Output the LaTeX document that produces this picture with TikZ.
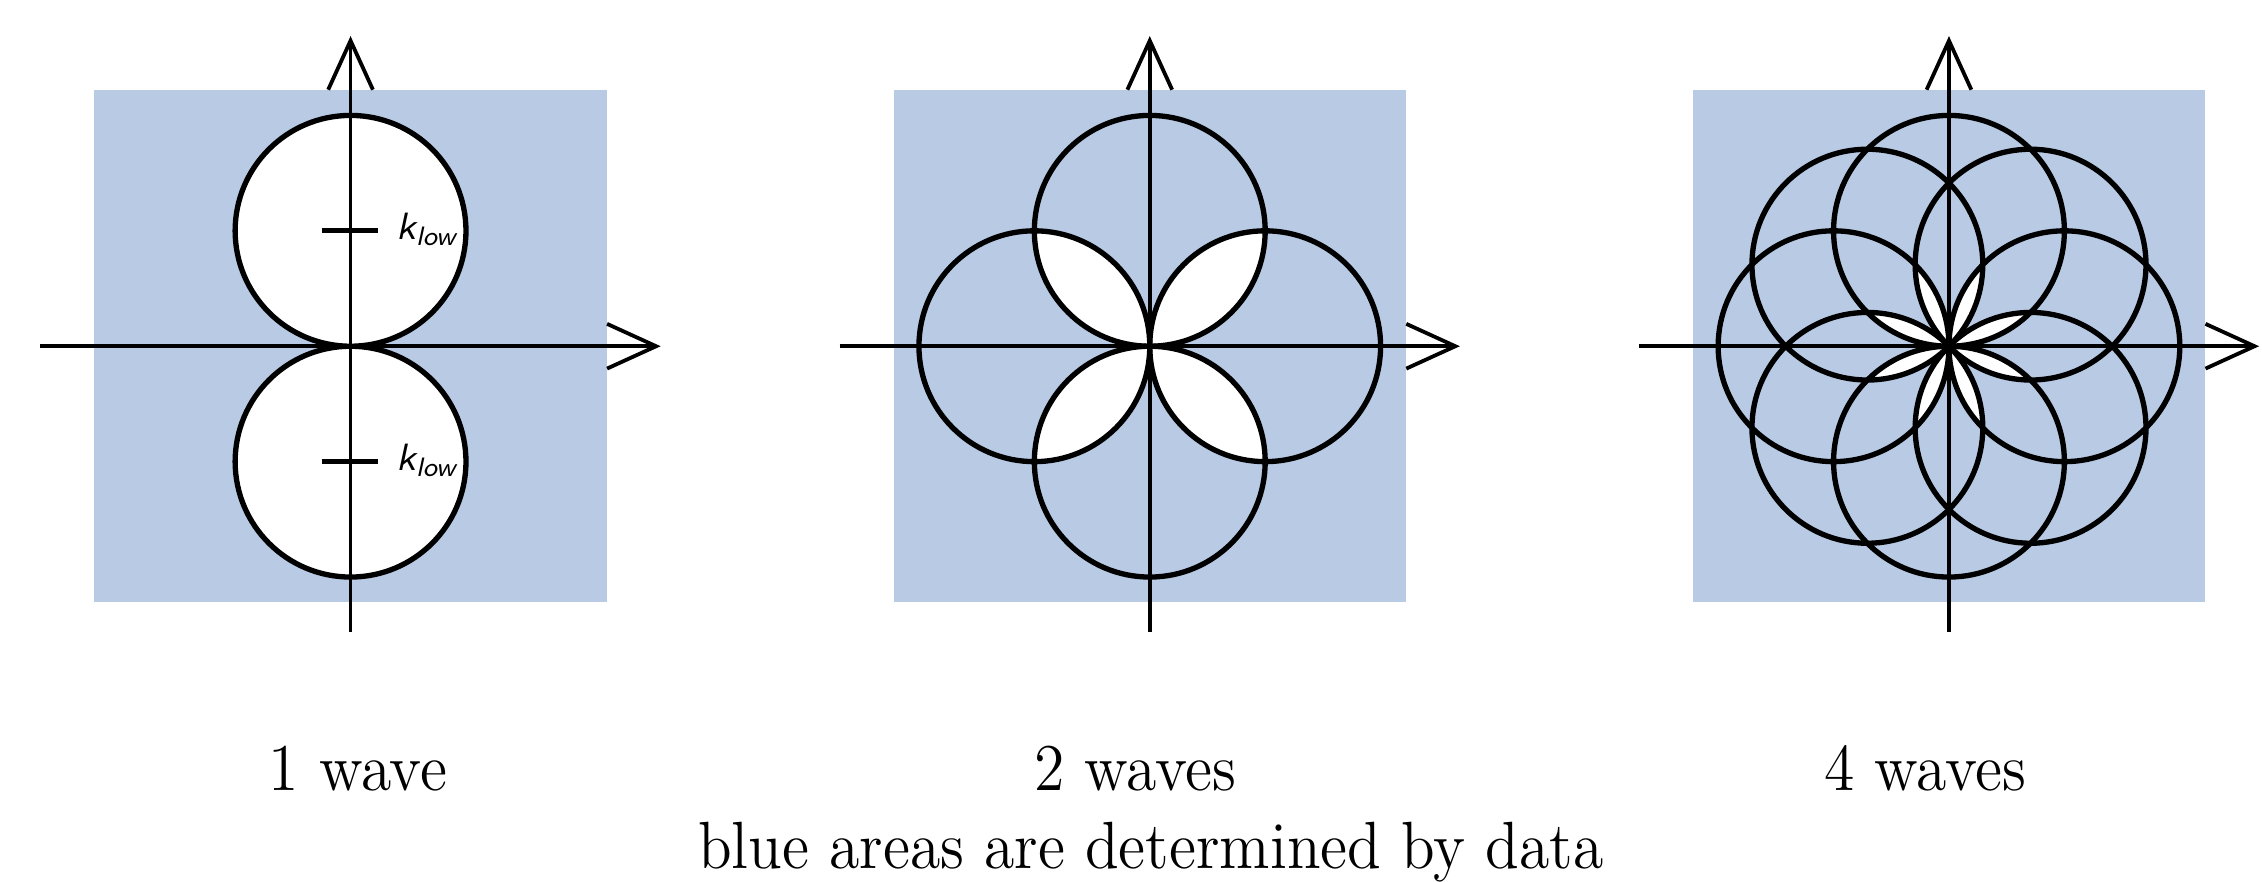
\documentclass[tikz,border=0pt]{standalone}
\usetikzlibrary{arrows.meta}
\definecolor{datablue}{RGB}{184,202,228}

\begin{document}
\begin{tikzpicture}[
  wave/.style={line width=1.05pt},
  axis/.style={line width=0.75pt,-{Straight Barb[length=3.4mm,width=3.1mm]}},
  caption/.style={font=\fontsize{12.2}{14}\selectfont,anchor=base,yscale=1.08,transform shape},
  klabel/.style={font=\fontsize{7.5}{9}\selectfont\sffamily\itshape,anchor=base west,inner sep=0pt}]
 \useasboundingbox (0,0) rectangle (15.68,6.11);
 % 1 wave
 \begin{scope}[shift={(2.43,3.71)}]
  \fill[datablue] (-1.775,-1.775) rectangle (1.775,1.775);
  \fill[white] (0,0.8) circle (0.8) (0,-0.8) circle (0.8);
  \draw[wave] (0,0.8) circle (0.8) (0,-0.8) circle (0.8);
  \draw[wave] (-0.2,0.8) -- (0.19,0.8) (-0.2,-0.8) -- (0.19,-0.8);
  \node[klabel] (kup) at (0.31,0.74) {k\textsubscript{low}};
  \node[klabel] (kdown) at (0.31,-0.86) {k\textsubscript{low}};
  \draw[axis] (-2.15,0) -- (2.15,0);
  \draw[axis] (0,-1.98) -- (0,2.15);
 \end{scope}
 % 2 waves
 \begin{scope}[shift={(7.97,3.71)}]
  \fill[datablue] (-1.775,-1.775) rectangle (1.775,1.775);
  \foreach \a in {0,90,180,270} {
   \begin{scope}
    \clip (\a:0.8) circle (0.8);
    \fill[white] (\a+90:0.8) circle (0.8);
   \end{scope}
  }
  \foreach \a in {0,90,180,270}
   \draw[wave] (\a:0.8) circle (0.8);
  \draw[axis] (-2.15,0) -- (2.15,0);
  \draw[axis] (0,-1.98) -- (0,2.15);
 \end{scope}
 % 4 waves
 \begin{scope}[shift={(13.51,3.71)}]
  \fill[datablue] (-1.775,-1.775) rectangle (1.775,1.775);
  \foreach \a in {0,45,...,315} {
   \begin{scope}
    \clip (\a:0.8) circle (0.8);
    \fill[white] (\a+135:0.8) circle (0.8);
   \end{scope}
  }
  \foreach \a in {0,45,...,315}
   \draw[wave] (\a:0.8) circle (0.8);
  \draw[axis] (-2.15,0) -- (2.15,0);
  \draw[axis] (0,-1.98) -- (0,2.15);
 \end{scope}
 % captions
 \node[caption] (cap1) at (2.48,0.63) {1 wave};
 \node[caption] (cap2) at (7.87,0.63) {2 waves};
 \node[caption] (cap4) at (13.345,0.63) {4 waves};
 \node[caption] (note) at (7.977,0.093) {blue areas are determined by data};
\end{tikzpicture}
\end{document}
